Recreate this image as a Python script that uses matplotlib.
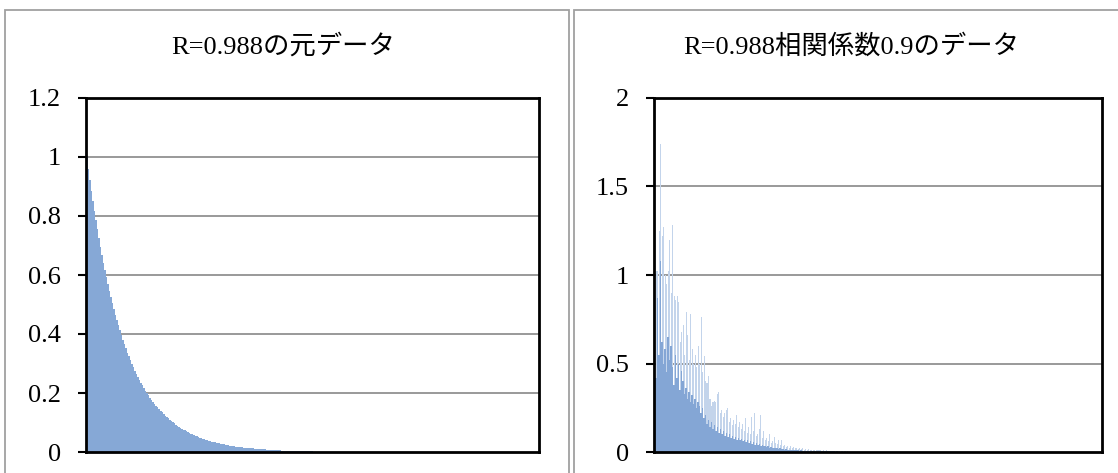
import matplotlib
matplotlib.use('Agg')
import matplotlib.pyplot as plt
from matplotlib.patches import Rectangle

plt.rcParams['font.family'] = ['Liberation Serif', 'Noto Sans CJK JP']

# number of bars on the category axis
n_bars = 300

# left chart: original data (rest is zero)
left_values = [
    1.000, 0.961, 0.923, 0.886, 0.851, 0.818, 0.785, 0.755, 0.725, 0.696,
    0.669, 0.642, 0.617, 0.593, 0.569, 0.547, 0.525, 0.505, 0.485, 0.466,
    0.447, 0.430, 0.413, 0.396, 0.381, 0.366, 0.351, 0.337, 0.324, 0.311,
    0.299, 0.287, 0.276, 0.265, 0.255, 0.245, 0.235, 0.226, 0.217, 0.208,
    0.200, 0.192, 0.184, 0.177, 0.170, 0.164, 0.157, 0.151, 0.145, 0.139,
    0.134, 0.128, 0.123, 0.118, 0.114, 0.109, 0.105, 0.101, 0.097, 0.093,
    0.089, 0.086, 0.082, 0.079, 0.076, 0.073, 0.070, 0.067, 0.065, 0.062,
    0.060, 0.057, 0.055, 0.053, 0.051, 0.049, 0.047, 0.045, 0.043, 0.042,
    0.040, 0.038, 0.037, 0.035, 0.034, 0.033, 0.031, 0.030, 0.029, 0.028,
    0.027, 0.026, 0.025, 0.024, 0.023, 0.022, 0.021, 0.020, 0.019, 0.018,
    0.018, 0.017, 0.016, 0.016, 0.015, 0.014, 0.014, 0.014, 0.013, 0.013,
    0.012, 0.011, 0.011, 0.010, 0.010, 0.010, 0.009, 0.009, 0.009, 0.008,
    0.008, 0.008, 0.007, 0.007, 0.007, 0.007, 0.006, 0.006, 0.006, 0.005,
    0.005, 0.005, 0.005, 0.005, 0.004, 0.004, 0.004, 0.004, 0.004, 0.004,
    0.004, 0.003, 0.003, 0.003, 0.003, 0.003, 0.002, 0.002, 0.002, 0.002,
]
left_values = left_values + [0.0] * (n_bars - len(left_values))

# right chart: noisy data (correlation 0.9), body of the bars and the thin peaks
right_body = [
    0.60, 0.42, 0.87, 0.55, 1.08, 0.62, 0.50, 0.58, 0.45, 0.65,
    0.52, 0.60, 0.48, 0.38, 0.55, 0.42, 0.50, 0.35, 0.46, 0.40,
    0.33, 0.36, 0.30, 0.34, 0.28, 0.32, 0.27, 0.30, 0.25, 0.28,
    0.26, 0.22, 0.25, 0.19, 0.21, 0.16, 0.18, 0.14, 0.17, 0.13,
    0.15, 0.12, 0.14, 0.11, 0.13, 0.10, 0.12, 0.09, 0.11, 0.085,
    0.10, 0.08, 0.09, 0.075, 0.085, 0.07, 0.08, 0.065, 0.075, 0.06,
    0.07, 0.055, 0.065, 0.05, 0.06, 0.045, 0.055, 0.04, 0.05, 0.038,
    0.045, 0.035, 0.04, 0.032, 0.036, 0.028, 0.032, 0.025, 0.028, 0.022,
    0.025, 0.02, 0.022, 0.018, 0.02, 0.016, 0.018, 0.014, 0.016, 0.012,
    0.014, 0.011, 0.012, 0.01, 0.011, 0.009, 0.01, 0.008, 0.009, 0.007,
    0.008, 0.007, 0.007, 0.006, 0.007, 0.006, 0.006, 0.005, 0.005, 0.005,
    0.004, 0.005, 0.004, 0.004, 0.004, 0.003, 0.004, 0.003, 0.003, 0.003,
    0.003, 0.002, 0.003, 0.002, 0.002, 0.002, 0.002, 0.002, 0.001, 0.001,
]
right_peaks = [
    0.75, 1.02, 1.02, 1.25, 1.74, 1.22, 1.27, 1.00, 0.95, 1.02,
    1.20, 0.90, 1.28, 0.88, 0.86, 0.88, 0.85, 0.62, 0.68, 0.72,
    0.55, 0.79, 0.66, 0.52, 0.78, 0.58, 0.50, 0.55, 0.48, 0.60,
    0.50, 0.76, 0.45, 0.54, 0.40, 0.39, 0.43, 0.30, 0.26, 0.28,
    0.29, 0.28, 0.33, 0.34, 0.22, 0.24, 0.20, 0.22, 0.24, 0.25,
    0.17, 0.19, 0.15, 0.18, 0.16, 0.21, 0.14, 0.17, 0.13, 0.16,
    0.12, 0.19, 0.11, 0.14, 0.10, 0.20, 0.12, 0.22, 0.09, 0.10,
    0.13, 0.21, 0.08, 0.12, 0.07, 0.08, 0.06, 0.10, 0.05, 0.06,
    0.085, 0.05, 0.045, 0.07, 0.04, 0.07, 0.035, 0.04, 0.03, 0.035,
    0.025, 0.032, 0.022, 0.028, 0.02, 0.025, 0.018, 0.022, 0.016, 0.02,
    0.014, 0.018, 0.013, 0.016, 0.012, 0.014, 0.011, 0.013, 0.010, 0.012,
    0.009, 0.011, 0.008, 0.010, 0.008, 0.009, 0.007, 0.008, 0.006, 0.007,
    0.006, 0.006, 0.005, 0.006, 0.005, 0.005, 0.004, 0.005, 0.004, 0.004,
]
right_body = right_body + [0.0] * (n_bars - len(right_body))
right_peaks = right_peaks + [0.0] * (n_bars - len(right_peaks))

titles = ['R=0.988の元データ', 'R=0.988相関係数0.9のデータ']
left_ticks = [0, 0.2, 0.4, 0.6, 0.8, 1, 1.2]
left_ticklabels = ['0', '0.2', '0.4', '0.6', '0.8', '1', '1.2']
right_ticks = [0, 0.5, 1, 1.5, 2]
right_ticklabels = ['0', '0.5', '1', '1.5', '2']

W, H = 1118, 473
fig = plt.figure(figsize=(W / 100, H / 100), dpi=100)

# outer chart borders
fig.add_artist(Rectangle((5 / W, -0.1), 564 / W, 1.1 - 10 / H, transform=fig.transFigure,
                         fill=False, ec='#a0a0a0', lw=1.3))
fig.add_artist(Rectangle((574 / W, -0.1), 600 / W, 1.1 - 10 / H, transform=fig.transFigure,
                         fill=False, ec='#a0a0a0', lw=1.3))

ax1 = fig.add_axes([86 / W, 21 / H, 453 / W, 354 / H])
ax2 = fig.add_axes([654 / W, 21 / H, 448 / W, 354 / H])

x = list(range(n_bars))
ax1.bar(x, left_values, width=1.0, color='#86a8d6', linewidth=0, zorder=3)
ax2.bar(x, right_peaks, width=0.7, color='#c3d4eb', linewidth=0, zorder=3)
ax2.bar(x, right_body, width=1.0, color='#84a6d5', linewidth=0, zorder=4)

for ax, ticks, labels, top in [(ax1, left_ticks, left_ticklabels, 1.2),
                               (ax2, right_ticks, right_ticklabels, 2)]:
    ax.set_xlim(-0.5, n_bars - 0.5)
    ax.set_ylim(0, top)
    ax.set_yticks(ticks)
    ax.set_yticklabels(labels)
    ax.set_xticks([])
    ax.tick_params(axis='y', direction='out', length=6, width=1.5, color='black',
                   labelsize=19, pad=12)
    for t in ticks[1:-1]:
        ax.axhline(t, color='#878787', lw=1.2, zorder=2)
    for s in ax.spines.values():
        s.set_color('black')
        s.set_linewidth(2)
        s.set_zorder(5)

fig.text(283 / W, 1 - 46 / H, titles[0], ha='center', va='center', fontsize=19)
fig.text(851 / W, 1 - 46 / H, titles[1], ha='center', va='center', fontsize=19)

fig.savefig('out.png', dpi=100)
